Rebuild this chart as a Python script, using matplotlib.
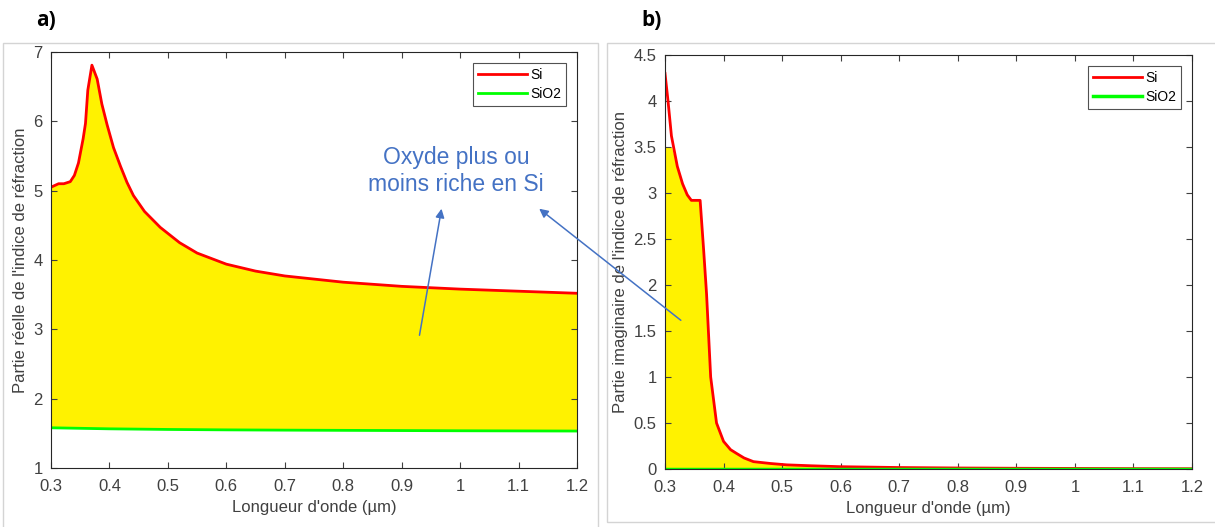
import numpy as np
import matplotlib.pyplot as plt
from matplotlib.patches import Rectangle, FancyArrowPatch

plt.rcParams['font.family'] = ['Liberation Sans', 'DejaVu Sans']

# a) partie reelle
wl_n = [0.300, 0.313, 0.322, 0.333, 0.340, 0.347, 0.355, 0.359, 0.363, 0.370,
        0.379, 0.387, 0.396, 0.407, 0.419, 0.430, 0.441, 0.460, 0.487, 0.52,
        0.55, 0.60, 0.65, 0.70, 0.80, 0.90, 1.00, 1.10, 1.20]
n_si = [5.05, 5.10, 5.10, 5.13, 5.22, 5.40, 5.75, 5.97, 6.45, 6.81,
        6.61, 6.25, 5.95, 5.62, 5.35, 5.12, 4.93, 4.70, 4.47, 4.25,
        4.10, 3.94, 3.84, 3.77, 3.68, 3.62, 3.58, 3.55, 3.52]
wl_sio2 = [0.3, 0.4, 0.5, 0.6, 0.7, 0.8, 0.9, 1.0, 1.1, 1.2]
n_sio2 = [1.58, 1.565, 1.556, 1.550, 1.546, 1.543, 1.540, 1.537, 1.535, 1.533]

# b) partie imaginaire
wl_k = [0.300, 0.305, 0.311, 0.321, 0.330, 0.338, 0.345, 0.360, 0.366, 0.371,
        0.378, 0.388, 0.400, 0.412, 0.422, 0.435, 0.451, 0.48, 0.508, 0.55,
        0.60, 0.70, 0.80, 0.90, 1.00, 1.10, 1.20]
k_si = [4.30, 4.01, 3.62, 3.29, 3.10, 2.98, 2.92, 2.92, 2.38, 1.90,
        1.00, 0.50, 0.30, 0.21, 0.17, 0.12, 0.08, 0.06, 0.045, 0.035,
        0.025, 0.016, 0.011, 0.008, 0.006, 0.004, 0.003]
k_sio2 = [0.0] * len(wl_k)
fill_cap = 3.5

xticks = np.arange(0.3, 1.21, 0.1)
xticklabels = ['0.3', '0.4', '0.5', '0.6', '0.7', '0.8', '0.9', '1', '1.1', '1.2']

W, H = 1215, 527
fig = plt.figure(figsize=(W / 100, H / 100), dpi=100)

def fx(px):
    return px / W

def fy(py):
    return 1 - py / H

# gray frames around each panel
fig.add_artist(Rectangle((fx(3), fy(560)), fx(595), fy(43) - fy(560),
                         transform=fig.transFigure, fill=False,
                         edgecolor='#d4d4d4', linewidth=1))
fig.add_artist(Rectangle((fx(607), fy(522)), fx(640), fy(43) - fy(522),
                         transform=fig.transFigure, fill=False,
                         edgecolor='#d4d4d4', linewidth=1))

fig.text(fx(46), fy(20), 'a)', fontsize=15, fontweight='bold',
         family=['Open Sans', 'DejaVu Sans'], va='center', ha='center')
fig.text(fx(652), fy(20), 'b)', fontsize=15, fontweight='bold',
         family=['Open Sans', 'DejaVu Sans'], va='center', ha='center')

gray = '#404040'

def style(ax):
    ax.set_xlim(0.3, 1.2)
    ax.set_xticks(xticks)
    ax.set_xticklabels(xticklabels)
    ax.tick_params(direction='in', top=True, right=True, labelsize=12,
                   colors=gray, length=4, width=0.8)
    ax.tick_params(axis='x', pad=8)
    ax.tick_params(axis='y', pad=6)
    for s in ax.spines.values():
        s.set_color('#262626')
        s.set_linewidth(0.8)
    ax.set_xlabel("Longueur d'onde (µm)", fontsize=12, color=gray, labelpad=4)
    leg = ax.legend(loc='upper right', fontsize=10, handlelength=3.5,
                    fancybox=False, edgecolor='#262626', borderaxespad=0.8,
                    borderpad=0.35, labelspacing=0.35, handletextpad=0.25)
    leg.get_frame().set_linewidth(0.8)

# panel a
ax1 = fig.add_axes([fx(51), fy(468), fx(577) - fx(51), fy(52) - fy(468)])
n_sio2_i = np.interp(wl_n, wl_sio2, n_sio2)
ax1.fill_between(wl_n, n_sio2_i, n_si, color='#fff200', linewidth=0)
ax1.plot(wl_n, n_si, color='#ff0000', linewidth=2, label='Si')
ax1.plot(wl_sio2, n_sio2, color='#00ff00', linewidth=2, label='SiO2')
ax1.set_ylim(1, 7)
ax1.set_yticks(range(1, 8))
ax1.set_ylabel("Partie réelle de l'indice de réfraction", fontsize=12, color=gray,
               labelpad=4)
style(ax1)

# panel b
ax2 = fig.add_axes([fx(665), fy(469), fx(1192) - fx(665), fy(55) - fy(469)])
ax2.fill_between(wl_k, k_sio2, np.minimum(k_si, fill_cap), color='#fff200',
                 linewidth=0)
ax2.plot(wl_k, k_si, color='#ff0000', linewidth=2, label='Si')
ax2.plot(wl_k, k_sio2, color='#00ff00', linewidth=2.5, label='SiO2')
ax2.set_ylim(0, 4.5)
ax2.set_yticks(np.arange(0, 4.51, 0.5))
ax2.set_yticklabels(['0', '0.5', '1', '1.5', '2', '2.5', '3', '3.5', '4', '4.5'])
ax2.set_ylabel("Partie imaginaire de l'indice de réfraction", fontsize=12,
               color=gray, labelpad=4)
style(ax2)

# annotation
blue = '#4472c4'
fig.text(fx(456), fy(171), 'Oxyde plus ou\nmoins riche en Si', color=blue,
         fontsize=16.5, ha='center', va='center', linespacing=1.2)
for tail, head in [((419, 338), (442, 206)), ((683, 322), (537, 207))]:
    fig.add_artist(FancyArrowPatch((fx(tail[0]), fy(tail[1])),
                                   (fx(head[0]), fy(head[1])),
                                   transform=fig.transFigure,
                                   arrowstyle='-|>', mutation_scale=13,
                                   color=blue, linewidth=1.1))

fig.savefig('out.png', dpi=100)
